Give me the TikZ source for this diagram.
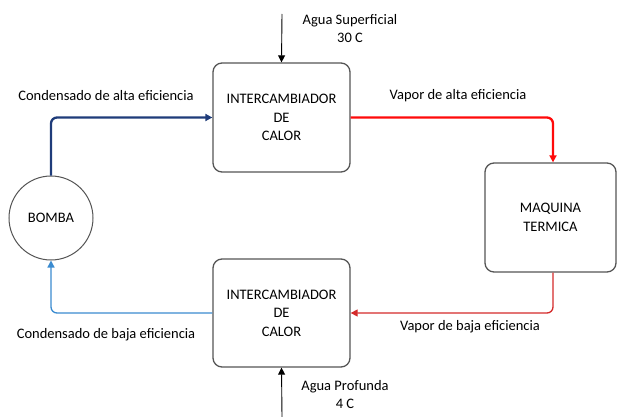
\documentclass[tikz,border=0pt]{standalone}
\usepackage{fontspec}
\setmainfont{Carlito}
\usetikzlibrary{arrows.meta}
\definecolor{boxgray}{HTML}{555555}
\definecolor{darkblue}{HTML}{1F3C7A}
\definecolor{lightblue}{HTML}{3A8BD0}
\definecolor{brightred}{HTML}{FF0A0A}
\definecolor{darkred}{HTML}{D42A2A}
\tikzset{
  procbox/.style={draw=boxgray, line width=1.3pt, rounded corners=9pt, align=center, font=\fontsize{14.5}{18.5}\selectfont, inner sep=0pt},
  pump/.style={draw=boxgray, line width=1pt, circle, minimum size=84pt, inner sep=0pt, font=\fontsize{14.5}{17}\selectfont},
  lbl/.style={font=\fontsize{14.5}{17.5}\selectfont, align=center, inner sep=0pt},
  tip/.style={-{Triangle[length=7pt,width=7pt]}},
  flow/.style={rounded corners=6pt},
}
\begin{document}
\begin{tikzpicture}[x=1pt,y=-1pt]
\useasboundingbox (0,0) rectangle (618,417);
% boxes
\node[procbox, minimum width=137pt, minimum height=109pt] (hx1) at (281.5,117.5) {INTERCAMBIADOR\\DE\\CALOR};
\node[procbox, minimum width=137pt, minimum height=108pt] (hx2) at (281.5,313) {INTERCAMBIADOR\\DE\\CALOR};
\node[procbox, minimum width=131pt, minimum height=109pt, font=\fontsize{14.5}{19}\selectfont] (mt) at (550.5,217.5) {MAQUINA\\TERMICA};
\node[pump] (pump) at (51,218) {BOMBA};
% free ends
\coordinate (topin) at (282,14);
\coordinate (botin) at (282,417);
% connectors
\draw[tip, line width=2.3pt, darkblue, flow] (pump.north) |- (hx1.west);
\draw[tip, line width=2.3pt, brightred, flow] (hx1.east) -| (mt.north -| 553,0);
\draw[tip, line width=1.3pt, darkred, flow] (mt.south -| 553,0) |- (hx2.east);
\draw[tip, line width=1.3pt, lightblue, flow] (hx2.west) -| (pump.south);
\draw[tip, line width=0.9pt, black] (topin) -- (hx1.north);
\draw[tip, line width=0.9pt, black] (botin) -- (hx2.south);
% labels
\node[lbl] (l1) at (106,96) {Condensado de alta eficiencia};
\node[lbl] (l2) at (458,96) {Vapor de alta eficiencia};
\node[lbl] (l3) at (470,327) {Vapor de baja eficiencia};
\node[lbl] (l4) at (106,335) {Condensado de baja eficiencia};
\node[lbl] (l5) at (350,28.5) {Agua Superficial\\30 C};
\node[lbl] (l6) at (345,394.5) {Agua Profunda\\4 C};
\end{tikzpicture}
\end{document}
